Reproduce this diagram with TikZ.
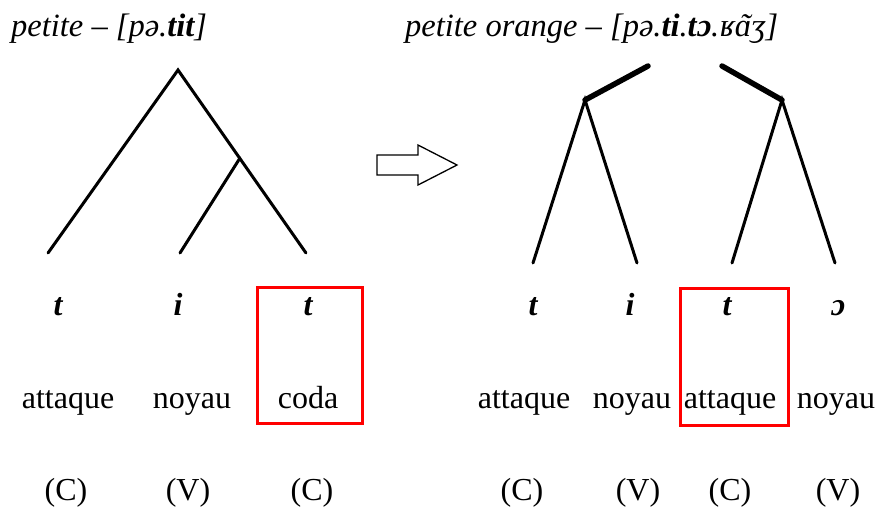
\documentclass[tikz,border=0pt]{standalone}
\usepackage{fontspec}
\setmainfont{Liberation Serif}
\newcommand\atilde{\ooalign{ɑ\cr\hidewidth\kern0.12em\char"02DC\hidewidth\cr}}
\begin{document}
\begin{tikzpicture}[x=1pt,y=-1pt,
  tree/.style={line width=3pt,line cap=round},
  bar/.style={line width=5.5pt,line cap=round},
  redbox/.style={draw=red,line width=3pt},
  lbl/.style={inner sep=0pt,anchor=base,font=\fontsize{32}{38}\selectfont},
  seg/.style={inner sep=0pt,anchor=base,font=\fontsize{32}{38}\selectfont\bfseries\itshape},
  ttl/.style={inner sep=0pt,anchor=base west,font=\fontsize{32.5}{38}\selectfont\itshape}]
\useasboundingbox (0,0) rectangle (877,509);
% titles
\node[ttl] (t1) at (11,36) {petite -- [pə.\textbf{tit}]};
\node[ttl] (t2) at (405,36) {petite orange -- [pə.\textbf{ti}.\textbf{tɔ}.ʁ\atilde ʒ]};
% left tree
\coordinate (a) at (178,70);
\coordinate (b) at (240,158);
\coordinate (l1) at (48,253);
\coordinate (l2) at (180,253);
\coordinate (l3) at (306,253);
\draw[tree] (l1) -- (a) -- (l3);
\draw[tree] (b) -- (l2);
% arrow
\draw[line width=1.3pt,line join=miter] (377,155) -- (418,155) -- (418,145) -- (457,165) -- (418,185) -- (418,175) -- (377,175) -- cycle;
% right trees
\coordinate (p) at (585,100);
\coordinate (pe) at (648,66);
\coordinate (q) at (782,100);
\coordinate (qe) at (722,66);
\coordinate (r1) at (533,263);
\coordinate (r2) at (637,263);
\coordinate (r3) at (732,263);
\coordinate (r4) at (835,263);
\draw[bar] (p) -- (pe);
\draw[bar] (q) -- (qe);
\draw[tree] (r1) -- (p) -- (r2);
\draw[tree] (r3) -- (q) -- (r4);
% red boxes
\draw[redbox] (257,287) rectangle (362,423);
\draw[redbox] (680,288) rectangle (788,425);
% segments
\node[seg] (s1) at (58,315) {t};
\node[seg] (s2) at (178,315) {i};
\node[seg] (s3) at (308,315) {t};
\node[seg] (s4) at (533,315) {t};
\node[seg] (s5) at (630,315) {i};
\node[seg] (s6) at (727,315) {t};
\node[seg] (s7) at (838,315) {ɔ};
% labels
\node[lbl] (w1) at (68,408) {attaque};
\node[lbl] (w2) at (192,408) {noyau};
\node[lbl] (w3) at (308,408) {coda};
\node[lbl] (w4) at (524,408) {attaque};
\node[lbl] (w5) at (632,408) {noyau};
\node[lbl] (w6) at (730,408) {attaque};
\node[lbl] (w7) at (836,408) {noyau};
% CV
\node[lbl] (c1) at (66,500) {(C)};
\node[lbl] (c2) at (188,500) {(V)};
\node[lbl] (c3) at (312,500) {(C)};
\node[lbl] (c4) at (522,500) {(C)};
\node[lbl] (c5) at (638,500) {(V)};
\node[lbl] (c6) at (730,500) {(C)};
\node[lbl] (c7) at (838,500) {(V)};
\end{tikzpicture}
\end{document}
